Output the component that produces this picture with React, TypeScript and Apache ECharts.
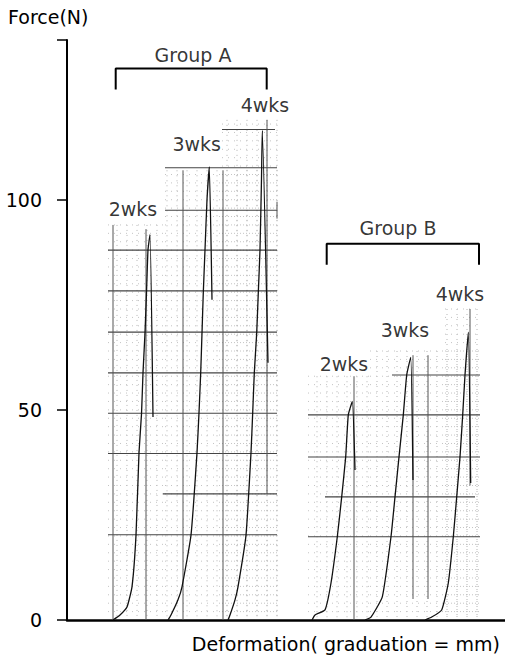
import React, { useEffect, useRef } from "react";
import * as echarts from "echarts";

// ---- data (x: deformation in graduation units, y: force in N) ----
const yTicks = [0, 50, 100];
const curveA2 = [[4.6, 0], [5.3, 1.2], [6.0, 3.1], [6.5, 7.9], [6.9, 20.2], [7.2, 39.8], [7.45, 49], [7.6, 58.8], [7.8, 68.3], [7.95, 77.9], [8.1, 88.1], [8.3, 91.7], [8.6, 48.3]];
const curveA3 = [[10.1, 0], [10.4, 1.2], [11.1, 4.8], [11.5, 7.9], [12.4, 20.2], [13.0, 39.8], [13.2, 49.3], [13.37, 58.8], [13.5, 68.3], [13.63, 77.9], [13.8, 88.1], [14.0, 100], [14.23, 107.8], [14.5, 76.2]];
const curveA4 = [[16.1, 0], [16.3, 1.2], [16.8, 4.8], [17.1, 7.9], [17.9, 20.2], [18.4, 39.8], [18.57, 49.3], [18.73, 58.8], [18.97, 68.3], [19.13, 77.9], [19.3, 88.1], [19.45, 105], [19.53, 116.5], [20.1, 61.2]];
const curveB2 = [[24.5, 0], [24.8, 1.2], [25.8, 2.4], [26.4, 8.8], [27.03, 19.8], [27.47, 29.3], [27.87, 38.8], [28.13, 48.8], [28.53, 52], [28.8, 35.7]];
const curveB3 = [[29.8, 0], [30.4, 0.7], [31.53, 5.5], [32.4, 19.8], [32.8, 29.3], [33.2, 38.8], [33.63, 48.8], [33.97, 58.3], [34.37, 62.5], [34.6, 33.3]];
const curveB4 = [[35.8, 0], [36.47, 0.7], [37.47, 2.4], [38.13, 8.8], [38.63, 19.8], [38.97, 29.3], [39.3, 38.8], [39.57, 48.8], [39.8, 58.3], [40.13, 68.5], [40.37, 32.6]];
const curves = [curveA2, curveA3, curveA4, curveB2, curveB3, curveB4];

const labelNames = ["Group A", "2wks", "3wks", "4wks", "Group B", "2wks", "3wks", "4wks"];
const labelX = [12.6, 6.6, 12.97, 19.8, 33.1, 27.7, 33.8, 39.3];
const labelY = [134.5, 97.9, 113.3, 122.6, 93.3, 61, 69, 77.6];

const bracketA = [[4.87, 126.2], [4.87, 131.2], [19.97, 131.2], [19.97, 126.2]];
const bracketB = [[25.97, 84.5], [25.97, 89.5], [41.2, 89.5], [41.2, 84.5]];

// chart-paper patches: [x0, x1, top force]
const paperPatches = [[4.1, 9.8, 94], [9.8, 21.0, 107], [15.5, 21.0, 119], [24.1, 30.3, 58], [30.3, 41.3, 64], [37.8, 41.3, 74]];
// chart-paper heavy rulings: [x0, x1, force]
const paperRulesH = [
  [9.8, 21.0, 97.5], [9.8, 21.0, 107.6], [15.5, 20.8, 116.7],
  [4.1, 21.0, 88], [4.1, 21.0, 78.3], [4.1, 21.0, 68.5], [4.1, 21.0, 58.8], [4.1, 21.0, 49.2],
  [4.1, 21.0, 39.6], [9.6, 21.0, 30], [4.1, 21.0, 20.3],
  [32.5, 41.3, 58.3], [24.1, 41.3, 48.8], [24.1, 41.3, 38.8], [25.8, 40.8, 29.3], [24.1, 41.3, 19.8]
];
// chart-paper vertical rulings: [x, force0, force1]
const paperRulesV = [
  [4.6, 0, 94], [7.9, 0, 93], [11.6, 0, 107], [15.6, 0, 107], [20.0, 30, 119], [21.0, 95.5, 99.5],
  [28.7, 0, 58], [34.6, 5, 63], [36.1, 5, 63], [40.3, 32, 74]
];

const FONT = "DejaVu Sans";

export default function App() {
  const ref = useRef<HTMLDivElement>(null);
  useEffect(() => {
    if (!ref.current) return;
    const chart = echarts.init(ref.current, null, { renderer: "svg" });
    const curveSeries = curves.map((c, i) => ({
      type: "line",
      name: "curve" + i,
      data: c,
      symbol: "none",
      smooth: 0.15,
      lineStyle: { color: "#111", width: 1.3 },
      z: 5,
      silent: true,
    }));
    const bracketSeries = [bracketA, bracketB].map((b) => ({
      type: "line",
      data: b,
      symbol: "none",
      lineStyle: { color: "#000", width: 2 },
      z: 6,
      silent: true,
    }));
    chart.setOption({
      animation: false,
      title: {
        text: "Force(N)",
        left: 3,
        top: 2,
        textStyle: { fontFamily: FONT, fontSize: 19, fontWeight: "normal", color: "#000" },
      },
      graphic: [
        {
          type: "text",
          right: 5,
          top: 634,
          style: { text: "Deformation( graduation = mm)", fontFamily: FONT, fontSize: 19, fill: "#000" },
        },
      ],
      grid: { left: 67, right: 0, top: 40, bottom: 37 },
      xAxis: {
        type: "value",
        min: 0,
        max: 43.8,
        axisLine: { show: true, lineStyle: { color: "#000", width: 2.5 } },
        axisTick: { show: false },
        axisLabel: { show: false },
        splitLine: { show: false },
      },
      yAxis: {
        type: "value",
        min: 0,
        max: 138,
        interval: 50,
        offset: 11,
        axisLine: { show: true, lineStyle: { color: "#000", width: 2 } },
        axisTick: { show: true, length: 10, lineStyle: { color: "#000", width: 1.5 } },
        axisLabel: {
          show: true,
          margin: 14,
          fontFamily: FONT,
          fontSize: 19,
          color: "#000",
          formatter: (v: number) => (yTicks.includes(v) ? String(v) : ""),
        },
        splitLine: { show: false },
      },
      series: [
        {
          type: "custom",
          coordinateSystem: "cartesian2d",
          silent: true,
          z: 1,
          data: paperPatches,
          renderItem: (params: any, api: any) => {
            const x0 = api.value(0), x1 = api.value(1), top = api.value(2);
            const tl = api.coord([x0, top]);
            const br = api.coord([x1, 0]);
            const children: any[] = [];
            for (let x = Math.ceil(x0); x <= x1 + 1e-6; x += 1) {
              const p = api.coord([x, 0]);
              children.push({ type: "line", shape: { x1: p[0], y1: tl[1], x2: p[0], y2: br[1] - 2 }, style: { stroke: "#b4b4b4", lineWidth: 1, lineDash: [1, 4] } });
            }
            for (let y = 2; y <= top + 1e-6; y += 2) {
              const p = api.coord([x0, y]);
              children.push({ type: "line", shape: { x1: tl[0], y1: p[1], x2: br[0], y2: p[1] }, style: { stroke: "#c4c4c4", lineWidth: 1, lineDash: [1, 5] } });
            }
            return { type: "group", children };
          },
        },
        {
          type: "custom",
          coordinateSystem: "cartesian2d",
          silent: true,
          z: 2,
          data: paperRulesH,
          renderItem: (params: any, api: any) => {
            const a = api.coord([api.value(0), api.value(2)]);
            const b = api.coord([api.value(1), api.value(2)]);
            return { type: "line", shape: { x1: a[0], y1: a[1], x2: b[0], y2: b[1] }, style: { stroke: "#444", lineWidth: 1.1 } };
          },
        },
        {
          type: "custom",
          coordinateSystem: "cartesian2d",
          silent: true,
          z: 2,
          data: paperRulesV,
          renderItem: (params: any, api: any) => {
            const a = api.coord([api.value(0), api.value(1)]);
            const b = api.coord([api.value(0), api.value(2)]);
            return { type: "line", shape: { x1: a[0], y1: a[1], x2: b[0], y2: b[1] }, style: { stroke: "#555", lineWidth: 1 } };
          },
        },
        ...curveSeries,
        ...bracketSeries,
        {
          type: "scatter",
          symbolSize: 0,
          silent: true,
          z: 7,
          data: labelNames.map((n, i) => ({ name: n, value: [labelX[i], labelY[i]] })),
          label: {
            show: true,
            position: "inside",
            formatter: "{b}",
            fontFamily: FONT,
            fontSize: 19,
            color: "#000",
          },
        },
      ],
    });
    return () => chart.dispose();
  }, []);
  return <div ref={ref} style={{ width: 505, height: 657, position: "absolute", left: 0, top: 0, background: "#fff" }} />;
}
